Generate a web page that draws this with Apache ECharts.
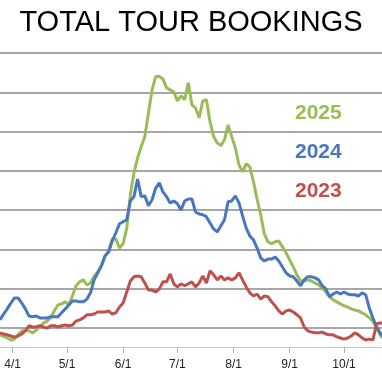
<!DOCTYPE html>
<html>
<head>
<meta charset="utf-8">
<script src="https://cdn.jsdelivr.net/npm/echarts@6/dist/echarts.min.js"></script>
<style>
html,body{margin:0;padding:0;background:#fff;}
#chart{width:382px;height:391px;}
</style>
</head>
<body>
<div id="chart"></div>
<script>
// Day offsets from 4/1 for each sample
var sampleDays = [-7,-5,-3,-1,1,3,5,7,9,11,13,15,17,19,21,23,25,27,29,
  31,33,35,37,39,41,43,45,47,49,51,53,55,57,59,
  61,63,65,67,69,71,73,75,77,79,81,83,85,87,89,
  91,93,95,97,99,101,103,105,107,109,111,113,115,117,119,
  121,123,125,127,129,131,133,135,137,139,141,143,145,147,149,
  151,153,155,157,159,161,163,165,167,169,171,173,175,177,179,
  181,183,185,187,189,191,193,195,197,199,201,203,204];

var tickDays = [0,30,61,91,122,153,183];
var tickLabels = ['4/1','5/1','6/1','7/1','8/1','9/1','10/1'];

var seriesNames = ['2025','2024','2023'];

var bookings2025 = [82,78,74,69,71,82,92,94,92,87,94,102,112,117,125,143,158,161,166,
  158,181,207,217,222,209,214,232,242,258,283,296,326,326,303,
  314,354,439,495,533,561,587,648,706,740,740,734,711,706,701,
  678,691,681,724,668,660,635,678,681,625,587,571,564,579,617,
  587,558,515,497,518,510,472,428,388,339,319,314,319,321,306,
  291,273,255,235,219,219,222,219,214,209,201,191,179,171,166,
  161,156,153,148,145,143,138,133,125,117,99,82,74];

var bookings2024 = [120,135,148,163,176,176,163,148,130,128,130,125,125,125,128,128,128,138,148,
  158,168,168,166,166,173,189,222,240,258,283,293,321,342,365,
  370,375,423,434,479,434,436,411,426,456,469,446,434,418,423,
  416,400,423,428,428,395,390,388,383,367,352,344,360,375,421,
  423,436,418,385,354,334,324,303,278,270,275,275,280,270,255,
  240,232,230,219,207,222,230,230,227,222,207,199,179,186,191,
  186,191,186,184,184,181,189,184,150,125,102,87,79];

var bookings2023 = [87,84,82,79,76,79,84,92,105,102,102,105,102,99,105,105,102,105,107,
  105,107,117,120,125,133,133,135,140,140,140,143,135,138,153,
  163,191,219,230,232,230,214,196,196,191,199,217,217,237,212,
  204,212,207,212,217,204,214,232,214,245,235,222,232,222,227,
  222,227,240,222,204,189,181,186,173,181,179,166,156,143,135,
  143,145,140,133,125,102,92,89,87,87,89,84,82,82,77,
  74,71,74,79,87,82,74,69,71,69,110,112,112];

var colors = ['#9BBB59','#4677BF','#C0504D'];

function pairs(vals){
  return sampleDays.map(function(d,i){ return [d, vals[i]]; });
}

var labelMap = {};
tickDays.forEach(function(d,i){ labelMap[d] = tickLabels[i]; });

var chart = echarts.init(document.getElementById('chart'), null, {renderer:'canvas'});
var allData = [bookings2025, bookings2024, bookings2023];

chart.setOption({
  animation: false,
  backgroundColor: '#fff',
  title: {
    text: 'TOTAL TOUR BOOKINGS',
    left: 'center',
    top: 8,
    padding: 0,
    textStyle: {fontFamily: 'Liberation Sans, Arial, sans-serif', fontSize: 29, fontWeight: 'normal', color: '#000'}
  },
  legend: {
    orient: 'vertical',
    left: 290,
    top: 103,
    padding: 0,
    itemWidth: 0,
    itemHeight: 21,
    itemGap: 18,
    icon: 'none',
    selectedMode: false,
    data: seriesNames.map(function(n,i){
      return {name: n, textStyle: {color: colors[i]}};
    }),
    textStyle: {fontFamily: 'Liberation Sans, Arial, sans-serif', fontSize: 21, fontWeight: 'bold'}
  },
  grid: {left: 0, right: 0, top: 53, bottom: 24, containLabel: false},
  xAxis: {
    type: 'value',
    min: -7,
    max: 204,
    offset: -20,
    axisLine: {show: true, lineStyle: {color: '#c4c4c4', width: 1}},
    axisTick: {show: true, customValues: tickDays, length: 6, lineStyle: {color: '#b0b0b0'}},
    axisLabel: {
      show: true,
      customValues: tickDays,
      margin: 12,
      fontFamily: 'Liberation Sans, Arial, sans-serif',
      fontSize: 12,
      color: '#222',
      formatter: function(v){ return labelMap[v] || ''; }
    },
    splitLine: {show: false}
  },
  yAxis: {
    type: 'value',
    min: 0,
    max: 800,
    interval: 100,
    axisLine: {show: false},
    axisTick: {show: false},
    axisLabel: {show: false},
    splitLine: {show: true, showMinLine: false, showMaxLine: true, lineStyle: {color: '#8a8a8a', width: 1.5}}
  },
  series: seriesNames.map(function(n,i){
    return {
      name: n,
      type: 'line',
      data: pairs(allData[i]),
      showSymbol: false,
      symbol: 'none',
      smooth: false,
      lineStyle: {color: colors[i], width: 3},
      itemStyle: {color: colors[i]},
      z: 2 + i
    };
  })
});
</script>
</body>
</html>
